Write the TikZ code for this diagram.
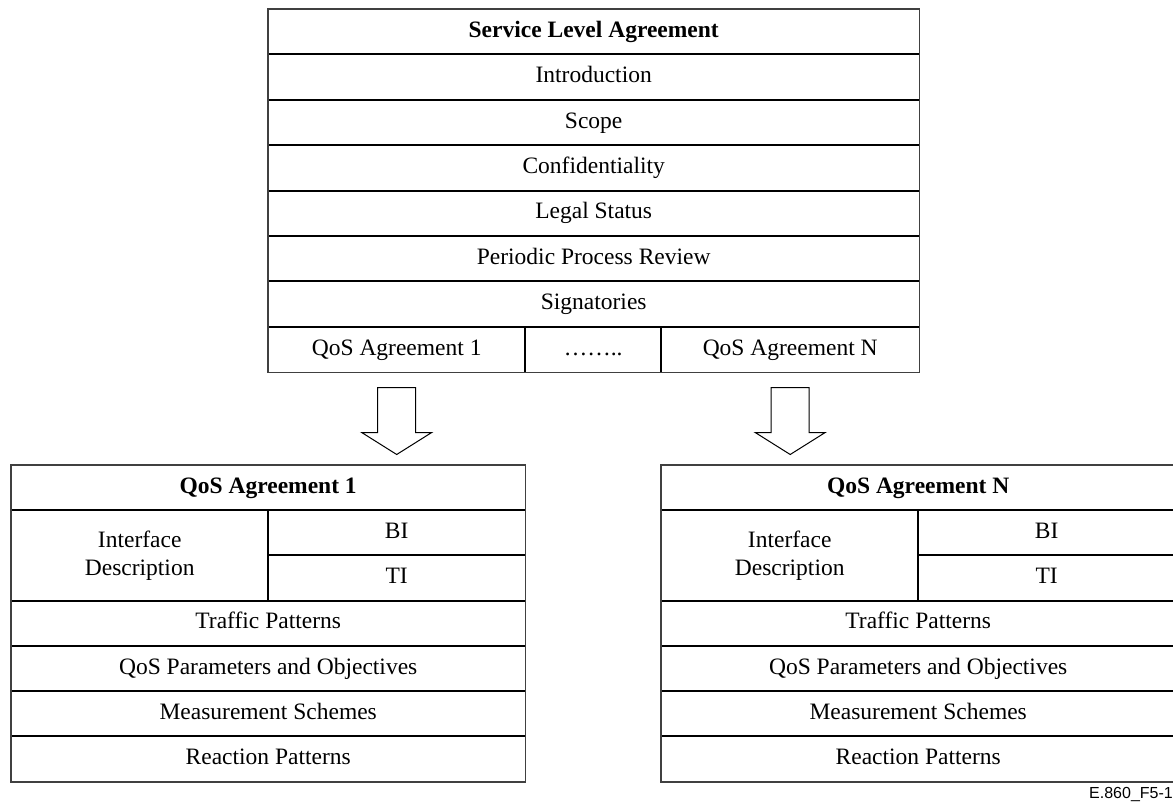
\documentclass[tikz,border=0pt]{standalone}
\usepackage{fontspec}
\setmainfont{Liberation Serif}
\newfontfamily\labelfont{Liberation Sans}
\usetikzlibrary{calc}

\begin{document}
\begin{tikzpicture}[x=1pt,y=-1pt,
  cell/.style={inner sep=0pt, minimum height=45.3pt, text height=16pt, text depth=5pt,
    anchor=north west, font=\fontsize{23.5}{28}\selectfont},
  tallcell/.style={inner sep=0pt, minimum height=90.4pt, align=center,
    anchor=north west, font=\fontsize{23.5}{28}\selectfont},
  sep/.style={line width=1.9pt, draw=black},
  frame/.style={line width=1.3pt, draw=black!75},
  hollow/.style={draw=black, line width=1pt, fill=white, line join=miter},
]
\useasboundingbox (0,0) rectangle (1173,803);

% ---- Service Level Agreement table ----
\node[cell, minimum width=651pt] (sla)   at (268,9)     {\textbf{Service Level Agreement}};
\node[cell, minimum width=651pt] (intro) at (268,54.4)  {Introduction};
\node[cell, minimum width=651pt] (scope) at (268,99.8)  {Scope};
\node[cell, minimum width=651pt] (conf)  at (268,145.2) {Confidentiality};
\node[cell, minimum width=651pt] (legal) at (268,190.6) {Legal Status};
\node[cell, minimum width=651pt] (ppr)   at (268,236)   {Periodic Process Review};
\node[cell, minimum width=651pt] (sign)  at (268,281.4) {Signatories};
\node[cell, minimum width=257pt] (qa1)   at (268,326.8) {QoS Agreement 1};
\node[cell, minimum width=136pt] (dots)  at (525,326.8) {……..};
\node[cell, minimum width=258pt] (qan)   at (661,326.8) {QoS Agreement N};

\foreach \r in {intro,scope,conf,legal,ppr,sign}
  \draw[sep] (\r.north west) -- (\r.north east);
\draw[sep] (qa1.north west) -- (qan.north east);
\draw[sep] (dots.north west) -- (dots.south west);
\draw[sep] (dots.north east) -- (dots.south east);
\draw[frame] (sla.north west) rectangle (qan.south east);

% ---- QoS Agreement tables ----
\foreach \s/\dx in {1/0, N/650}{
  \node[cell, minimum width=514pt] (t\s)   at (11+\dx,465)   {\textbf{QoS Agreement \s}};
  \node[tallcell, minimum width=257pt] (if\s) at (11+\dx,510.2) {Interface\\Description};
  \node[cell, minimum width=257pt] (bi\s)  at (268+\dx,510.2) {BI};
  \node[cell, minimum width=257pt] (ti\s)  at (268+\dx,555.4) {TI};
  \node[cell, minimum width=514pt] (tp\s)  at (11+\dx,600.6) {Traffic Patterns};
  \node[cell, minimum width=514pt] (po\s)  at (11+\dx,645.8) {QoS Parameters and Objectives};
  \node[cell, minimum width=514pt] (ms\s)  at (11+\dx,691)   {Measurement Schemes};
  \node[cell, minimum width=514pt] (rp\s)  at (11+\dx,736.2) {Reaction Patterns};

  \draw[sep] (if\s.north west) -- (bi\s.north east);
  \draw[sep] (bi\s.north west) -- (ti\s.south west);
  \draw[sep] (ti\s.north west) -- (ti\s.north east);
  \foreach \r in {tp,po,ms,rp}
    \draw[sep] (\r\s.north west) -- (\r\s.north east);
  \draw[frame] (t\s.north west) rectangle (rp\s.south east);
}

% ---- hollow block arrows from the top table to each QoS table ----
\coordinate (a1) at ($(qa1.south)+(0,15)$);
\coordinate (aN) at ($(qan.south)+(0,15)$);
\foreach \a in {a1,aN}
  \draw[hollow] (\a) ++(-19,0) -- ++(38,0) -- ++(0,45) -- ++(16,0)
    -- ++(-35,22) -- ++(-35,-22) -- ++(16,0) -- cycle;

% ---- figure tag ----
\node[anchor=base east, inner sep=0pt, font=\labelfont\fontsize{16}{19}\selectfont]
  (tag) at (1173,798) {E.860\_F5-1};
\end{tikzpicture}
\end{document}
